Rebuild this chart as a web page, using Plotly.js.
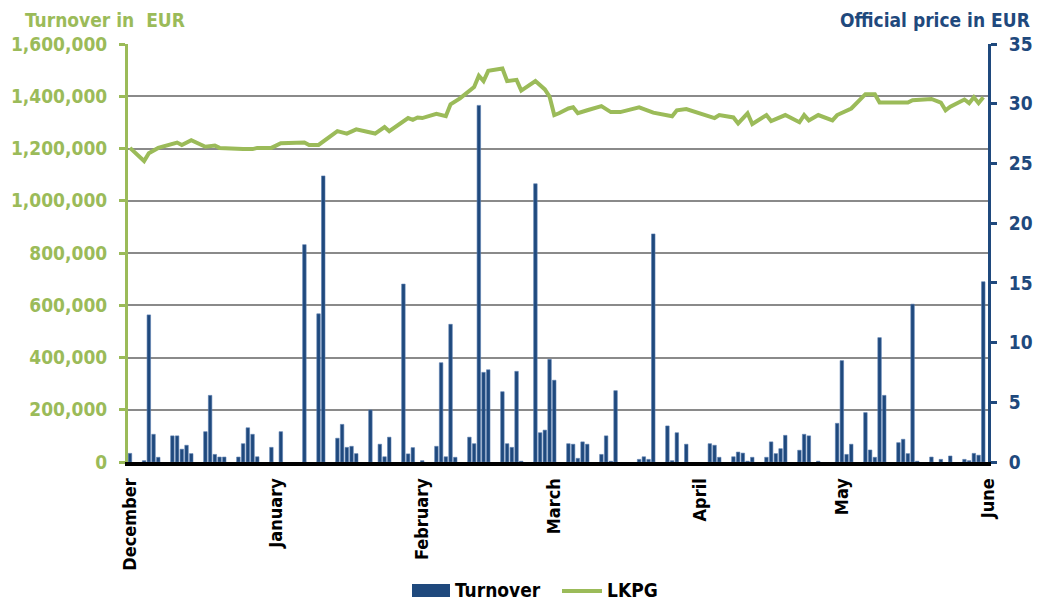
<!DOCTYPE html>
<html>
<head>
<meta charset="utf-8">
<script src="https://cdn.plot.ly/plotly-3.0.1.min.js"></script>
<style>html,body{margin:0;padding:0;background:#fff;}#chart{width:1037px;height:603px;}</style>
</head>
<body>
<div id="chart"></div>
<script>
// Turnover (EUR) by trading date
var turnoverDates = [
 '2012-12-01','2012-12-04','2012-12-05','2012-12-06','2012-12-07','2012-12-10','2012-12-11','2012-12-12','2012-12-13','2012-12-14',
 '2012-12-17','2012-12-18','2012-12-19','2012-12-20','2012-12-21','2012-12-24','2012-12-25','2012-12-26','2012-12-27','2012-12-28','2012-12-31',
 '2013-01-02','2013-01-07','2013-01-10','2013-01-11','2013-01-14','2013-01-15','2013-01-16','2013-01-17','2013-01-18','2013-01-21',
 '2013-01-23','2013-01-24','2013-01-25','2013-01-28','2013-01-29','2013-01-30',
 '2013-02-01','2013-02-04','2013-02-05','2013-02-06','2013-02-07','2013-02-08','2013-02-11','2013-02-12','2013-02-13','2013-02-14','2013-02-15',
 '2013-02-18','2013-02-19','2013-02-20','2013-02-21','2013-02-22','2013-02-25','2013-02-26','2013-02-27','2013-02-28',
 '2013-03-01','2013-03-04','2013-03-05','2013-03-06','2013-03-07','2013-03-08','2013-03-11','2013-03-12','2013-03-13','2013-03-14',
 '2013-03-19','2013-03-20','2013-03-21','2013-03-22','2013-03-25','2013-03-26','2013-03-27','2013-03-29',
 '2013-04-03','2013-04-04','2013-04-05','2013-04-08','2013-04-09','2013-04-10','2013-04-11','2013-04-12','2013-04-15','2013-04-16','2013-04-17',
 '2013-04-18','2013-04-19','2013-04-22','2013-04-23','2013-04-24','2013-04-26','2013-04-30',
 '2013-05-01','2013-05-02','2013-05-03','2013-05-06','2013-05-07','2013-05-08','2013-05-09','2013-05-10','2013-05-13','2013-05-14','2013-05-15',
 '2013-05-16','2013-05-17','2013-05-20','2013-05-22','2013-05-24','2013-05-27','2013-05-28','2013-05-29','2013-05-30','2013-05-31'
];
var turnoverValues = [
 33000,5000,563000,106000,18000,100000,100000,49000,64000,32000,
 116000,255000,29000,19000,19000,19000,70000,131000,106000,20000,56000,
 116000,832000,567000,1095000,91000,144000,56000,60000,32000,199000,
 68000,20000,95000,681000,31000,55000,
 5000,60000,380000,20000,527000,18000,95000,70000,1365000,343000,353000,
 269000,70000,56000,347000,3000,1065000,112000,122000,393000,
 313000,70000,68000,14000,77000,68000,29000,100000,3000,273000,
 10000,20000,10000,873000,138000,5000,112000,68000,
 70000,64000,18000,20000,38000,34000,3000,18000,18000,77000,32000,
 51000,102000,45000,106000,100000,3000,148000,
 388000,29000,68000,189000,46000,18000,476000,255000,74000,87000,32000,
 604000,3000,19000,10000,23000,10000,5000,33000,26000,690000
];

// LKPG official price (EUR)
var priceDates = [
 '2012-12-01','2012-12-04','2012-12-05','2012-12-07','2012-12-11','2012-12-12','2012-12-14','2012-12-17','2012-12-19','2012-12-20',
 '2012-12-25','2012-12-27','2012-12-28','2012-12-31','2013-01-02','2013-01-07','2013-01-08','2013-01-10','2013-01-14','2013-01-16',
 '2013-01-18','2013-01-22','2013-01-24','2013-01-25','2013-01-29','2013-01-30','2013-01-31','2013-02-01','2013-02-04','2013-02-06',
 '2013-02-07','2013-02-09','2013-02-12','2013-02-13','2013-02-14','2013-02-15','2013-02-18','2013-02-19','2013-02-21','2013-02-22',
 '2013-02-25','2013-02-27','2013-02-28','2013-03-01','2013-03-02','2013-03-04','2013-03-05','2013-03-06','2013-03-08','2013-03-11',
 '2013-03-13','2013-03-15','2013-03-19','2013-03-22','2013-03-26','2013-03-27','2013-03-29','2013-04-04','2013-04-05','2013-04-08',
 '2013-04-09','2013-04-11','2013-04-12','2013-04-15','2013-04-16','2013-04-19','2013-04-22','2013-04-23','2013-04-24','2013-04-26',
 '2013-04-29','2013-04-30','2013-05-03','2013-05-06','2013-05-08','2013-05-09','2013-05-15','2013-05-16','2013-05-20','2013-05-22',
 '2013-05-23','2013-05-24','2013-05-27','2013-05-28','2013-05-29','2013-05-30','2013-05-31'
];
var priceValues = [
 26.3,25.2,25.85,26.3,26.75,26.55,26.95,26.4,26.5,26.3,
 26.2,26.2,26.3,26.3,26.7,26.75,26.55,26.55,27.7,27.5,
 27.85,27.5,28.05,27.7,28.8,28.65,28.85,28.8,29.15,28.95,
 29.95,30.45,31.4,32.35,31.9,32.75,32.95,31.9,32.0,31.1,
 31.9,31.2,30.6,29.05,29.2,29.6,29.7,29.2,29.45,29.8,
 29.3,29.3,29.7,29.25,28.95,29.45,29.55,28.8,29.05,28.85,
 28.35,29.2,28.3,29.05,28.55,29.05,28.45,29.05,28.6,29.05,
 28.6,29.05,29.6,30.8,30.8,30.1,30.1,30.3,30.4,30.1,
 29.45,29.75,30.35,30.05,30.55,30.05,30.55
];

var monthTickDates = ['2012-12-01','2013-01-01','2013-02-01','2013-03-01','2013-04-01','2013-05-01','2013-06-01'];
var monthTickLabels = ['December','January','February','March','April','May','June'];

var GREEN = '#9BBB59', BLUE = '#1F497D';
var FONT = 'DejaVu Sans Condensed, DejaVu Sans, sans-serif';

// plot box in pixels (for converting legend positions to paper coords)
var L = 128, R = 988, T = 44, B = 462;
function px(x){ return (x - L) / (R - L); }
function py(y){ return (B - y) / (B - T); }

var traces = [
 {type:'bar', name:'Turnover', x: turnoverDates, y: turnoverValues, yaxis:'y',
  width: 64000000, marker:{color: BLUE, line:{color:'#5a7db0', width:0.6}}, showlegend:false},
 {type:'scatter', mode:'lines', name:'LKPG', x: priceDates, y: priceValues, yaxis:'y2',
  line:{color: GREEN, width:4}, showlegend:false}
];

var layout = {
 width:1037, height:603,
 margin:{l:L, r:1037-R, t:T, b:603-B},
 paper_bgcolor:'#fff', plot_bgcolor:'#fff',
 bargap:0,
 xaxis:{type:'date', range:['2012-11-30 14:00','2013-06-01 00:00'],
   tickmode:'array', tickvals: monthTickDates, ticktext: monthTickLabels, tickangle:-90,
   ticks:'', showgrid:false, zeroline:false, showline:true, linecolor:'#000', linewidth:4,
   ticklabelstandoff:5,
   tickfont:{family:FONT, size:18, color:'#000', weight:'bold'}},
 yaxis:{range:[0,1600000], dtick:200000, tickformat:',d', showgrid:true, gridcolor:'#8a8a8a', gridwidth:2,
   zeroline:false, showline:true, linecolor:GREEN, linewidth:3, ticks:'outside', ticklen:6, tickwidth:3, tickcolor:GREEN,
   ticklabelstandoff:8,
   tickfont:{family:FONT, size:19, color:GREEN, weight:'bold'}},
 yaxis2:{overlaying:'y', side:'right', range:[0,35], dtick:5, showgrid:false, zeroline:false,
   showline:true, linecolor:BLUE, linewidth:3, ticks:'outside', ticklen:6, tickwidth:3, tickcolor:BLUE,
   ticklabelstandoff:8,
   tickfont:{family:FONT, size:19, color:BLUE, weight:'bold'}},
 annotations:[
  {xref:'paper', yref:'paper', x:px(23), y:py(20), xanchor:'left', yanchor:'middle', showarrow:false,
   text:'Turnover in\u00A0 EUR', font:{family:FONT, size:19, color:GREEN, weight:'bold'}},
  {xref:'paper', yref:'paper', x:px(1032), y:py(20), xanchor:'right', yanchor:'middle', showarrow:false,
   text:'Official price in EUR', font:{family:FONT, size:19, color:BLUE, weight:'bold'}},
  {xref:'paper', yref:'paper', x:px(453), y:py(590), xanchor:'left', yanchor:'middle', showarrow:false,
   text:'Turnover', font:{family:FONT, size:19, color:'#000', weight:'bold'}},
  {xref:'paper', yref:'paper', x:px(605), y:py(590), xanchor:'left', yanchor:'middle', showarrow:false,
   text:'LKPG', font:{family:FONT, size:19, color:'#000', weight:'bold'}}
 ],
 shapes:[
  {type:'rect', xref:'paper', yref:'paper', x0:px(412), x1:px(450), y0:py(584), y1:py(597),
   fillcolor:BLUE, line:{width:0}},
  {type:'line', xref:'paper', yref:'paper', x0:px(562), x1:px(602), y0:py(591), y1:py(591),
   line:{color:GREEN, width:4}}
 ]
};

Plotly.newPlot('chart', traces, layout, {staticPlot:true, displayModeBar:false});
</script>
</body>
</html>
